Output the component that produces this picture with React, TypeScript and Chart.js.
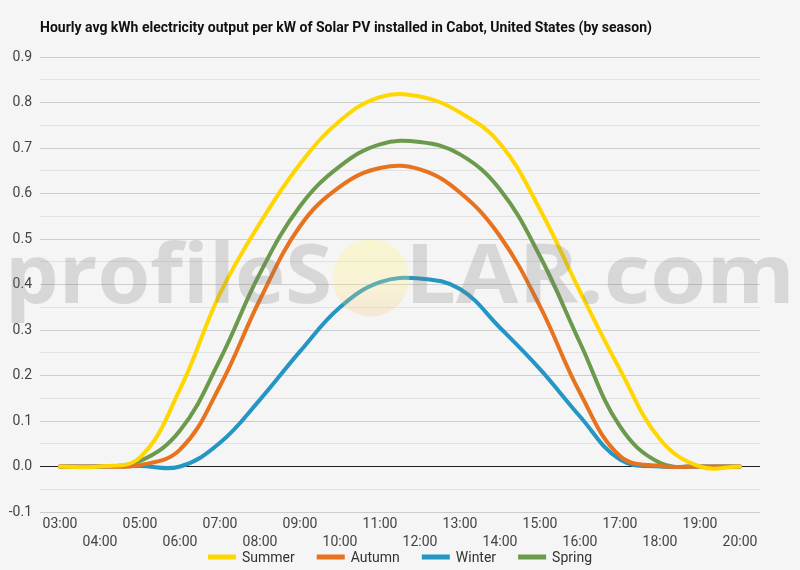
import React, { useEffect, useRef } from "react";
import { Chart, registerables } from "chart.js";

Chart.register(...registerables);

const TITLE = "Hourly avg kWh electricity output per kW of Solar PV installed in Cabot, United States (by season)";

const hours = [
  "03:00", "04:00", "05:00", "06:00", "07:00", "08:00", "09:00", "10:00", "11:00",
  "12:00", "13:00", "14:00", "15:00", "16:00", "17:00", "18:00", "19:00", "20:00",
];

const summer = [0, 0, 0.02, 0.17, 0.38, 0.535, 0.665, 0.76, 0.812, 0.813, 0.778, 0.71, 0.565, 0.385, 0.213, 0.06, 0, 0];
const autumn = [0, 0, 0.003, 0.037, 0.177, 0.367, 0.528, 0.615, 0.656, 0.653, 0.602, 0.506, 0.352, 0.162, 0.023, 0.001, 0, 0];
const winter = [0, 0, 0.001, 0, 0.052, 0.147, 0.253, 0.35, 0.405, 0.413, 0.39, 0.305, 0.214, 0.11, 0.015, 0, 0, 0];
const spring = [0, 0, 0.012, 0.079, 0.235, 0.425, 0.572, 0.66, 0.708, 0.713, 0.686, 0.609, 0.462, 0.272, 0.088, 0.008, 0, 0];

const seriesNames = ["Summer", "Autumn", "Winter", "Spring"];
const seriesColors = ["#ffd700", "#e8731e", "#2596c4", "#6c9a4c"];

const FONT = "Roboto, 'Noto Sans', sans-serif";

const bgPlugin = {
  id: "bg",
  beforeDraw(chart: any) {
    const ctx = chart.ctx;
    ctx.save();
    ctx.fillStyle = "#f5f5f5";
    ctx.fillRect(0, 0, chart.width, chart.height);
    ctx.fillStyle = "#111111";
    ctx.font = `bold 14px ${FONT}`;
    ctx.textBaseline = "middle";
    ctx.textAlign = "left";
    ctx.fillText(TITLE, chart.chartArea.left, 28);
    ctx.restore();
  },
};

const legendPlugin = {
  id: "customLegend",
  afterDraw(chart: any) {
    const ctx = chart.ctx;
    ctx.save();
    ctx.font = `14px ${FONT}`;
    const box = 28, gapText = 6, gapItem = 22, y = 557;
    const ds = chart.data.datasets;
    const widths = ds.map((d: any) => box + gapText + ctx.measureText(d.label).width);
    const total = widths.reduce((a: number, b: number) => a + b, 0) + gapItem * (ds.length - 1);
    let x = chart.width / 2 - total / 2;
    ds.forEach((d: any, i: number) => {
      ctx.fillStyle = d.borderColor;
      ctx.fillRect(x, y - 2.5, box, 5);
      ctx.fillStyle = "#333333";
      ctx.textBaseline = "middle";
      ctx.textAlign = "left";
      ctx.fillText(d.label, x + box + gapText, y + 1);
      x += widths[i] + gapItem;
    });
    ctx.restore();
  },
};

const watermarkPlugin = {
  id: "watermark",
  afterDatasetsDraw(chart: any) {
    const ctx = chart.ctx;
    ctx.save();
    const cx = 371, cy = 278, r = 38.5;
    const g = ctx.createLinearGradient(0, cy - r, 0, cy + r);
    g.addColorStop(0, "rgba(255,245,120,0.30)");
    g.addColorStop(0.55, "rgba(255,240,130,0.28)");
    g.addColorStop(1, "rgba(245,190,120,0.25)");
    ctx.fillStyle = g;
    ctx.beginPath();
    ctx.arc(cx, cy, r, 0, Math.PI * 2);
    ctx.fill();
    ctx.fillStyle = "rgba(120,120,120,0.24)";
    ctx.font = `bold 82px 'Open Sans', ${FONT}`;
    ctx.textBaseline = "alphabetic";
    ctx.textAlign = "left";
    const drawFit = (t: string, x0: number, x1: number) => {
      const w = ctx.measureText(t).width;
      ctx.save();
      ctx.translate(x0, 303);
      ctx.scale((x1 - x0) / w, 1);
      ctx.fillText(t, 0, 0);
      ctx.restore();
    };
    drawFit("profileS", 5, 332);
    drawFit("LAR.com", 405, 795);
    ctx.restore();
  },
};

export default function App() {
  const ref = useRef<HTMLCanvasElement | null>(null);

  useEffect(() => {
    document.body.style.margin = "0";
    const canvas = ref.current;
    if (!canvas) return;
    const chart = new Chart(canvas, {
      type: "line",
      data: {
        labels: hours,
        datasets: [summer, autumn, winter, spring].map((d, i) => ({
          label: seriesNames[i],
          data: d,
          borderColor: seriesColors[i],
          backgroundColor: seriesColors[i],
          borderWidth: 4,
          pointRadius: 0,
          pointHoverRadius: 0,
          fill: false,
          tension: 0.4,
          borderCapStyle: "round",
        })),
      },
      options: {
        animation: false,
        responsive: false,
        maintainAspectRatio: false,
        layout: { padding: { top: 57, right: 40, left: 0, bottom: 16 } },
        plugins: {
          legend: { display: false },
          title: { display: false },
          tooltip: { enabled: false },
        },
        scales: {
          x: {
            offset: true,
            grid: { display: false, drawTicks: false },
            border: { display: false },
            ticks: {
              autoSkip: false,
              maxRotation: 0,
              minRotation: 0,
              padding: 3,
              color: "#444444",
              font: { family: FONT, size: 14, lineHeight: 1.3 },
              callback: (_v: any, i: number) => (i % 2 === 0 ? hours[i] : ["", hours[i]]),
            },
            afterFit: (s: any) => {
              s.height = 42;
            },
          },
          y: {
            min: -0.1,
            max: 0.9,
            grid: {
              drawTicks: false,
              lineWidth: 1,
              color: (c: any) => {
                const v = c.tick ? c.tick.value : 1;
                if (Math.abs(v) < 1e-9) return "#222222";
                const k = Math.round(v * 20);
                return k % 2 === 0 ? "#cccccc" : "#e2e2e2";
              },
            },
            border: { display: false },
            ticks: {
              stepSize: 0.05,
              padding: 8,
              color: "#444444",
              font: { family: FONT, size: 14 },
              callback: (v: any) => {
                const k = Math.round(Number(v) * 20);
                return k % 2 === 0 ? (k / 20).toFixed(1) : "";
              },
            },
            afterFit: (s: any) => {
              s.width = 40;
            },
          },
        },
      },
      plugins: [bgPlugin, watermarkPlugin, legendPlugin],
    } as any);
    return () => chart.destroy();
  }, []);

  return (
    <div style={{ width: 800, height: 570 }}>
      <canvas ref={ref} width={800} height={570} style={{ display: "block" }} />
    </div>
  );
}
